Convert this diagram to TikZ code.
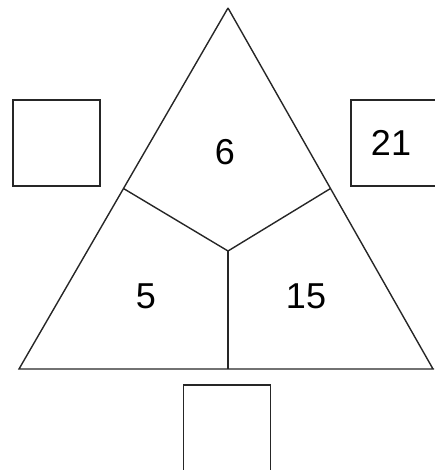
\documentclass[tikz,border=0pt]{standalone}
\usepackage{fontspec}
\setmainfont{Liberation Sans}
\usetikzlibrary{calc}

\begin{document}
\begin{tikzpicture}[x=1pt,y=-1pt,line width=1.4pt,draw=black!85,
  every node/.style={font=\fontsize{36}{42}\selectfont,inner sep=0pt},
  box/.style={draw=black!85,minimum width=87pt,minimum height=86pt}]
\useasboundingbox (0,0) rectangle (434,470);
\coordinate (top) at (228,8);
\coordinate (bl) at (19,369);
\coordinate (br) at (433,369);
\coordinate (mid) at (228,251);
\coordinate (ml) at ($(top)!0.5!(bl)$);
\coordinate (mr) at ($(top)!0.5!(br)$);
\coordinate (mb) at (mid |- bl);
\draw (top) -- (bl) -- (434,369) (br) -- (top);
\draw (ml) -- (mid) -- (mr);
\draw (mid) -- (mb);
\node (up) at (225,152) {6};
\node (lo) at (146,296) {5};
\node (ro) at (306,296) {15};
\node[box] (lbox) at (56.5,143) {};
\node[box] (rbox) at (394.5,143) {\hspace*{-7pt}21};
\node[box] (bbox) at (227,428) {};
\end{tikzpicture}
\end{document}
